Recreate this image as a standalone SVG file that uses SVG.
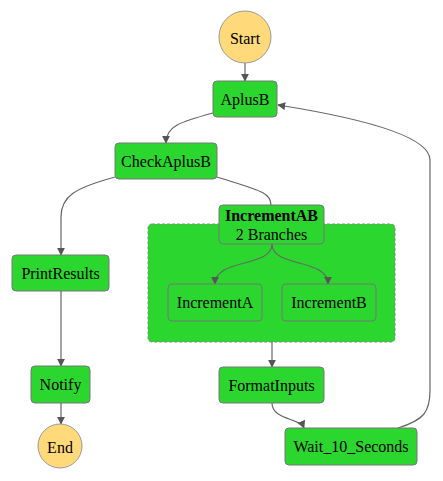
<svg xmlns="http://www.w3.org/2000/svg" width="443" height="481" viewBox="0 0 443 481">
<style>
text{font-family:"Liberation Serif","Times New Roman",serif;font-size:16px;fill:#000;text-anchor:middle;dominant-baseline:central}
.st{fill:#2bd62e;stroke:#777;stroke-width:1}
.term{fill:#ffd97a;stroke:#999;stroke-width:1}
.par{fill:#2bd62e;stroke:#888;stroke-width:1;stroke-dasharray:3,2}
.edge{fill:none;stroke:#666;stroke-width:1.2}
.b{font-weight:bold}
</style>
<defs>
<marker id="ah" viewBox="0 0 10 10" refX="9" refY="5" markerWidth="8" markerHeight="8" markerUnits="userSpaceOnUse" orient="auto">
<path d="M0,0 L10,5 L0,10 z" fill="#555"/>
</marker>
</defs>
<g id="IncrementAB-container"><rect class="par" x="148" y="224" width="247" height="118" rx="4"/></g>
<g id="connectors">
<path class="edge" d="M245,63 L245,81" marker-end="url(#ah)"/>
<path class="edge" d="M213,113 C180,122 166,126 166,143" marker-end="url(#ah)"/>
<path class="edge" d="M115,177 C75,188 61,196 61,217 L61,255" marker-end="url(#ah)"/>
<path class="edge" d="M217,177 C258,190 271,192 271,205"/>
<path class="edge" d="M272,244 C272,268 215,258 215,284" marker-end="url(#ah)"/>
<path class="edge" d="M272,244 C272,268 328,258 328,284" marker-end="url(#ah)"/>
<path class="edge" d="M61,291 L61,366" marker-end="url(#ah)"/>
<path class="edge" d="M61,403 L61,424" marker-end="url(#ah)"/>
<path class="edge" d="M272,342 L272,367" marker-end="url(#ah)"/>
<path class="edge" d="M272,403 C272,420 300,418 304,428" marker-end="url(#ah)"/>
<path class="edge" d="M398,428 C424,420 430,412 430,390 L430,160 C430,136 360,118 278,105" marker-end="url(#ah)"/>
</g>
<g id="Start"><circle class="term" cx="245" cy="37" r="26"/><text x="245" y="38">Start</text></g>
<g id="AplusB"><rect class="st" x="213" y="81" width="64" height="36" rx="4"/><text x="245" y="99">AplusB</text></g>
<g id="CheckAplusB"><rect class="st" x="115" y="143" width="102" height="36" rx="4"/><text x="166" y="161">CheckAplusB</text></g>
<g id="IncrementAB"><rect class="st" x="219" y="205" width="105" height="39" rx="4"/><text class="b" x="271.5" y="215">IncrementAB</text><text x="271.5" y="234">2 Branches</text></g>
<g id="IncrementA"><rect class="st" x="168" y="284" width="94" height="37" rx="4"/><text x="215" y="302.5">IncrementA</text></g>
<g id="IncrementB"><rect class="st" x="282" y="284" width="94" height="37" rx="4"/><text x="329" y="302.5">IncrementB</text></g>
<g id="PrintResults"><rect class="st" x="12" y="255" width="97" height="36" rx="4"/><text x="60.5" y="273">PrintResults</text></g>
<g id="Notify"><rect class="st" x="31" y="366" width="59" height="37" rx="4"/><text x="60.5" y="384.5">Notify</text></g>
<g id="End"><circle class="term" cx="60" cy="446" r="22"/><text x="60" y="447">End</text></g>
<g id="FormatInputs"><rect class="st" x="219" y="367" width="105" height="36" rx="4"/><text x="271.5" y="385">FormatInputs</text></g>
<g id="Wait_10_Seconds"><rect class="st" x="285" y="428" width="132" height="37" rx="4"/><text x="351" y="446.5">Wait_10_Seconds</text></g>
</svg>
